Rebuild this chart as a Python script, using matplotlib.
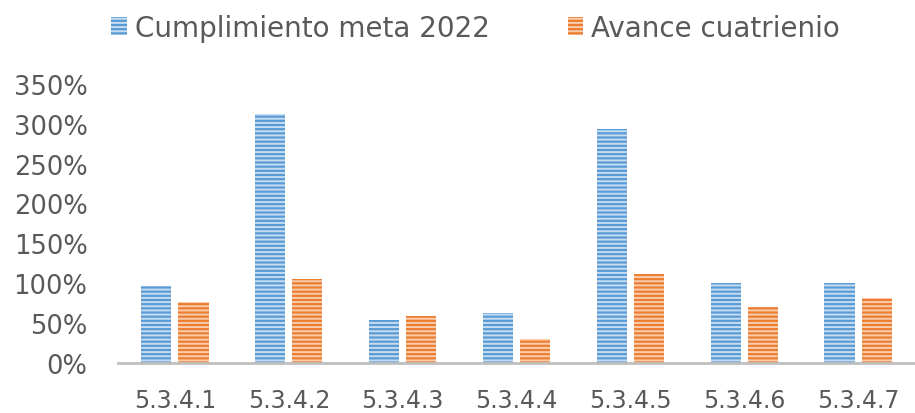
import numpy as np
import matplotlib.pyplot as plt
from matplotlib.ticker import FuncFormatter

categories = ['5.3.4.1', '5.3.4.2', '5.3.4.3', '5.3.4.4', '5.3.4.5', '5.3.4.6', '5.3.4.7']
cumplimiento_2022 = [96, 312, 54, 62, 293, 100, 100]
avance_cuatrienio = [76, 105, 59, 30, 111, 70, 82]
y_ticks = [0, 50, 100, 150, 200, 250, 300, 350]

plt.rcParams['font.family'] = ['DejaVu Sans']
plt.rcParams['hatch.linewidth'] = 1.4

fig = plt.figure(figsize=(9.15, 4.14), dpi=100)
ax = fig.add_axes([0.129, 0.121, 0.871, 0.674])

x = np.arange(len(categories))
w = 0.265
ax.bar(x - 0.163, cumplimiento_2022, w, color='#5B9BD5', edgecolor='#C5DCF1',
       hatch='----', linewidth=0, label='Cumplimiento meta 2022')
ax.bar(x + 0.163, avance_cuatrienio, w, color='#ED7D31', edgecolor='#F9CDAE',
       hatch='----', linewidth=0, label='Avance cuatrienio')

ax.set_xlim(-0.5, len(categories) - 0.5)
ax.set_ylim(0, 350)
ax.set_yticks(y_ticks)
ax.yaxis.set_major_formatter(FuncFormatter(lambda v, p: f'{v:.0f}%'))
ax.set_xticks(x)
ax.set_xticklabels(categories)
ax.tick_params(axis='both', length=0, colors='#595959')
ax.tick_params(axis='x', labelsize=17, pad=18)
ax.tick_params(axis='y', labelsize=18.5, pad=22)

for s in ['top', 'right', 'left']:
    ax.spines[s].set_visible(False)
ax.spines['bottom'].set_color('#BFBFBF')
ax.spines['bottom'].set_linewidth(2)

leg = fig.legend(loc='upper center', bbox_to_anchor=(0.52, 1.025), ncol=2, frameon=False,
                 fontsize=20, handlelength=0.55, handleheight=0.65, handletextpad=0.3,
                 columnspacing=2.8)
for t in leg.get_texts():
    t.set_color('#595959')

fig.savefig('out.png', dpi=100)
